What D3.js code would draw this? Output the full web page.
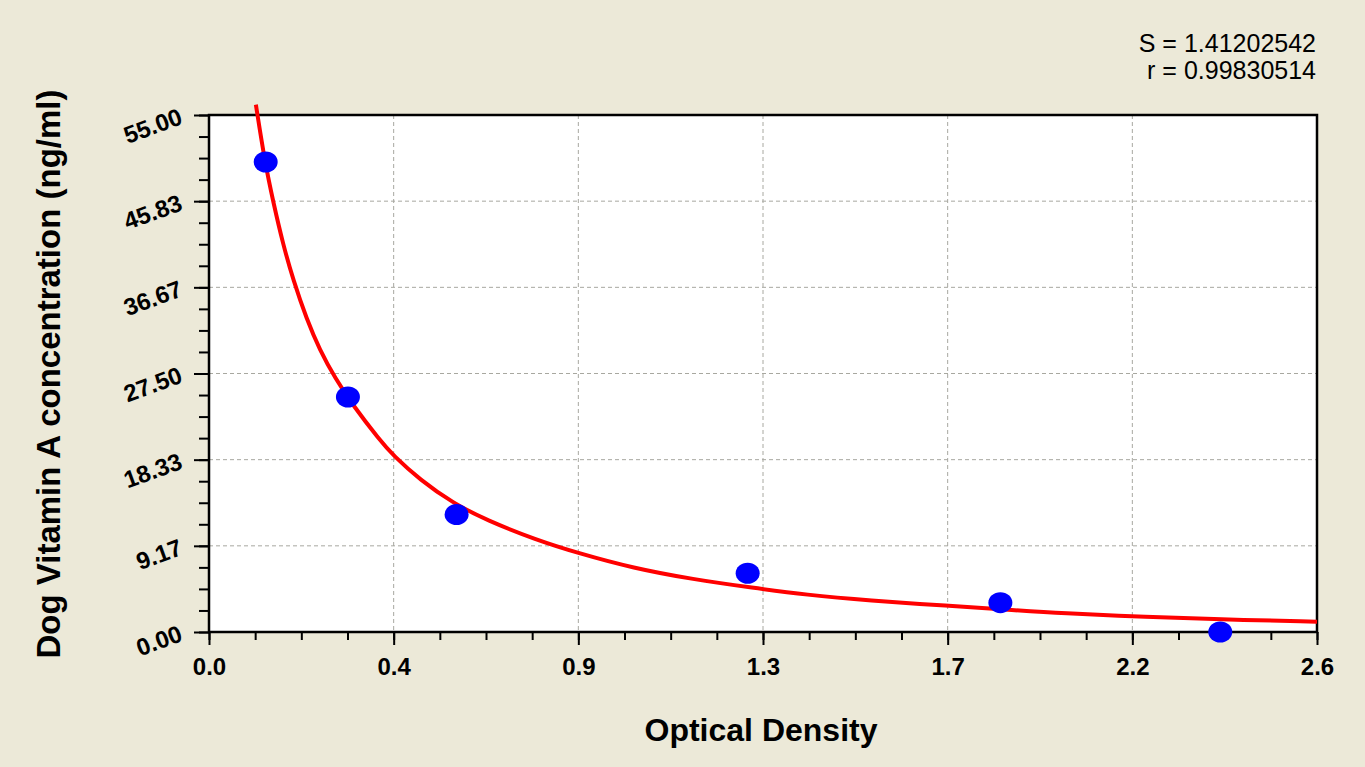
<!DOCTYPE html>
<html>
<head>
<meta charset="utf-8">
<title>Dog Vitamin A standard curve</title>
<script src="https://d3js.org/d3.v7.min.js"></script>
<style>
  html, body { margin: 0; padding: 0; background: #ece9d8; }
  svg { display: block; font-family: "Liberation Sans", Arial, sans-serif; }
  .grid line { stroke: #a8a8a0; stroke-width: 1; stroke-dasharray: 4,3; }
  .tick text { font-family: "Liberation Sans", Arial, sans-serif; font-weight: bold; font-size: 24px; fill: #000; }
</style>
</head>
<body>
<svg id="chart" width="1365" height="767"></svg>
<script>
// standard points (OD, concentration)
const odValues = [0.133, 0.326, 0.581, 1.264, 1.857, 2.373];
const concValues = [50, 25, 12.5, 6.25, 3.125, 0];

// fitted curve
const curveOD = [0.110, 0.131, 0.151, 0.174, 0.198, 0.229, 0.260, 0.296, 0.338, 0.401,
                 0.432, 0.495, 0.573, 0.651, 0.768, 0.866, 0.995, 1.136, 1.276, 1.401,
                 1.550, 1.730, 1.894, 1.995, 2.206, 2.363, 2.600];
const curveConc = [56.1, 50.0, 45.7, 41.2, 37.4, 33.3, 30.0, 27.0, 24.1, 20.4,
                   18.8, 16.2, 13.7, 11.9, 9.8, 8.4, 6.8, 5.6, 4.7, 3.95,
                   3.35, 2.8, 2.3, 2.0, 1.6, 1.35, 1.1];

const xTicks = [0, 2.6 / 6, 5.2 / 6, 1.3, 10.4 / 6, 13 / 6, 2.6];
const yTicks = [0, 55 / 6, 110 / 6, 27.5, 220 / 6, 275 / 6, 55];
const statLines = ["S = 1.41202542", "r = 0.99830514"];

const svg = d3.select("#chart");
const mLeft = 209, mRight = 1317, mTop = 115, mBottom = 632;

const x = d3.scaleLinear().domain([0, 2.6]).range([mLeft, mRight]);
const y = d3.scaleLinear().domain([0, 55]).range([mBottom, mTop]);

// plot background
svg.append("rect")
  .attr("x", mLeft).attr("y", mTop)
  .attr("width", mRight - mLeft).attr("height", mBottom - mTop)
  .attr("fill", "#fff");

// dashed grid
const grid = svg.append("g").attr("class", "grid");
grid.selectAll(".gx").data(xTicks.slice(1, -1)).enter().append("line")
  .attr("x1", d => x(d)).attr("x2", d => x(d))
  .attr("y1", mTop).attr("y2", mBottom);
grid.selectAll(".gy").data(yTicks.slice(1, -1)).enter().append("line")
  .attr("x1", mLeft).attr("x2", mRight)
  .attr("y1", d => y(d)).attr("y2", d => y(d));

// minor ticks
const xMinor = d3.range(25).map(i => i * 2.6 / 24);
const yMinor = d3.range(25).map(i => i * 55 / 24);

svg.append("g")
  .attr("transform", `translate(0,${mBottom})`)
  .call(d3.axisBottom(x).tickValues(xMinor).tickSize(8).tickFormat(""))
  .call(g => g.select(".domain").remove())
  .selectAll("line").attr("stroke", "#000").attr("stroke-width", 2);

svg.append("g")
  .attr("transform", `translate(${mLeft},0)`)
  .call(d3.axisLeft(y).tickValues(yMinor).tickSize(10).tickFormat(""))
  .call(g => g.select(".domain").remove())
  .selectAll("line").attr("stroke", "#000").attr("stroke-width", 2);

// major x axis
const xAxis = svg.append("g")
  .attr("transform", `translate(0,${mBottom})`)
  .call(d3.axisBottom(x).tickValues(xTicks).tickSize(13).tickFormat(d3.format(".1f")));
xAxis.select(".domain").remove();
xAxis.selectAll("line").attr("stroke", "#000").attr("stroke-width", 2);
xAxis.selectAll("text").attr("y", 43).attr("dy", 0);

// major y axis
const yAxis = svg.append("g")
  .attr("transform", `translate(${mLeft},0)`)
  .call(d3.axisLeft(y).tickValues(yTicks).tickSize(15).tickFormat(d3.format(".2f")));
yAxis.select(".domain").remove();
yAxis.selectAll("line").attr("stroke", "#000").attr("stroke-width", 2);
yAxis.selectAll("text")
  .attr("x", null).attr("dy", "0.35em")
  .attr("text-anchor", "end")
  .attr("transform", "translate(-28,0) rotate(-20)");

// frame
svg.append("rect")
  .attr("x", mLeft).attr("y", mTop)
  .attr("width", mRight - mLeft).attr("height", mBottom - mTop)
  .attr("fill", "none").attr("stroke", "#000").attr("stroke-width", 2.5);

// fitted curve
const line = d3.line()
  .x(d => x(d[0])).y(d => y(d[1]))
  .curve(d3.curveBasis);
svg.append("path")
  .datum(curveOD.map((d, i) => [d, curveConc[i]]))
  .attr("d", line)
  .attr("fill", "none")
  .attr("stroke", "#ff0000")
  .attr("stroke-width", 4);

// standards
svg.selectAll(".pt").data(odValues).enter().append("ellipse")
  .attr("cx", d => x(d))
  .attr("cy", (d, i) => y(concValues[i]))
  .attr("rx", 12).attr("ry", 10.5)
  .attr("fill", "#0000ff");

// axis titles
svg.append("text")
  .attr("x", 761).attr("y", 741)
  .attr("text-anchor", "middle")
  .attr("font-size", 32).attr("font-weight", "bold")
  .text("Optical Density");

svg.append("text")
  .attr("transform", "translate(60,374) rotate(-90)")
  .attr("text-anchor", "middle")
  .attr("font-size", 33).attr("font-weight", "bold")
  .text("Dog Vitamin A concentration (ng/ml)");

// fit statistics
svg.selectAll(".stat").data(statLines).enter().append("text")
  .attr("x", 1316)
  .attr("y", (d, i) => 52 + i * 27)
  .attr("text-anchor", "end")
  .attr("font-size", 25)
  .text(d => d);
</script>
</body>
</html>
